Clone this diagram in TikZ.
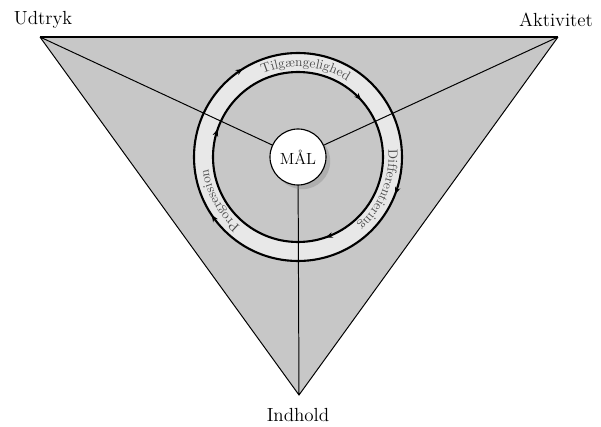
\documentclass[tikz,border=0pt]{standalone}
\usepackage{tikz}
\usetikzlibrary{arrows.meta,decorations.markings,decorations.text,shadows}

\begin{document}
\begin{tikzpicture}[>=Stealth,x=0.025cm,y=0.025cm,
  corner/.style={font=\fontsize{13.5}{15}\selectfont},
  ringline/.style={line width=1.5pt,postaction={decorate}},
  ringtext/.style={decorate,decoration={text along path,text align=center,text={|\fontsize{9.5}{10}\selectfont\color{black!70}|#1}}}]
\useasboundingbox (0,0) rectangle (601,-427);
\coordinate (U) at (40,-37);
\coordinate (A) at (558,-37);
\coordinate (I) at (299,-395);
\coordinate (c) at (298,-157);
\fill[black!22](U)--(A)--(I)--cycle;
\fill[black!9,even odd rule](c) circle[radius=104] (c) circle[radius=85];
\draw[line width=0.7pt](U)--(I)--(A)
(U)--(c) (A)--(c) (I)--(c);
\draw[line width=1.6pt](U)--(A);
% ydre og indre ring med pile med uret
\draw[ringline,decoration={markings,
  mark=at position 0.058 with {\arrow{Stealth[length=5pt,width=4pt]}},
  mark=at position 0.406 with {\arrow{Stealth[length=5pt,width=4pt]}},
  mark=at position 0.661 with {\arrow{Stealth[length=5pt,width=4pt]}}}]
  (c) ++(0:104) arc[start angle=360,end angle=0,radius=104];
\draw[ringline,decoration={markings,
  mark=at position 0.197 with {\arrow{Stealth[length=5pt,width=4pt]}},
  mark=at position 0.553 with {\arrow{Stealth[length=5pt,width=4pt]}},
  mark=at position 0.883 with {\arrow{Stealth[length=5pt,width=4pt]}}}]
  (c) ++(0:85) arc[start angle=360,end angle=0,radius=85];
\path[ringtext=Tilgængelighed](c) ++(130:90.5) arc[start angle=130,end angle=40,radius=90.5];
\path[ringtext=Differentiering](c) ++(23:90.5) arc[start angle=23,end angle=-67,radius=90.5];
\path[ringtext=Progression](c) ++(254:90.5) arc[start angle=254,end angle=164,radius=90.5];
\node[circle,draw,line width=0.8pt,fill=white,minimum size=1.4cm,inner sep=0pt,
  drop shadow={shadow xshift=3pt,shadow yshift=-3pt,opacity=0.35},
  font=\fontsize{11.5}{13}\selectfont] (maal) at (c) {MÅL};
\node[corner] (udtryk) at (43,-20) {Udtryk};
\node[corner] (aktivitet) at (556,-20) {Aktivitet};
\node[corner] (indhold) at (298,-415) {Indhold};
\end{tikzpicture}
\end{document}
